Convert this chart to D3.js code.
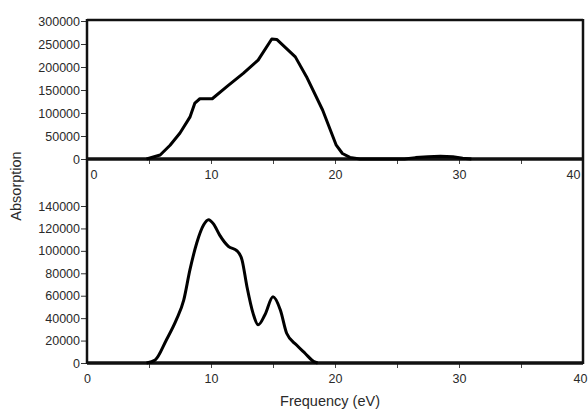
<!DOCTYPE html>
<html>
<head>
<meta charset="utf-8">
<script src="https://cdn.jsdelivr.net/npm/d3@7"></script>
<style>
  body { margin: 0; background: #fff; }
  text { font-family: "Liberation Sans", Arial, sans-serif; fill: #2a2a2a; }
</style>
</head>
<body>
<script>
// data (frequency in eV, absorption)
const topFreq = [4.8, 5.9, 6.7, 7.5, 8.3, 8.7, 9.1, 10.1, 11.3, 12.6, 13.8, 14.9, 15.3, 16.8, 17.7, 19.0, 20.1, 20.6, 21.2, 22.0, 25.6, 26.5, 27.5, 28.5, 29.5, 30.3, 31.0];
const topAbs  = [0, 8700, 30000, 56500, 91000, 121700, 131000, 131000, 158000, 186000, 215000, 261000, 260000, 222000, 179000, 106500, 30000, 12000, 3500, 0, 0, 3000, 5000, 6000, 5000, 1500, 0];

const botFreq = [4.8, 5.5, 6.4, 7.2, 7.8, 8.3, 8.85, 9.4, 9.8, 10.2, 10.7, 11.4, 12.1, 12.5, 12.9, 13.4, 13.8, 14.35, 15.0, 15.6, 16.1, 16.9, 17.6, 18.3, 18.6];
const botAbs  = [0, 2700, 20500, 38400, 56000, 83000, 107000, 123000, 127700, 124000, 114000, 104000, 100000, 92000, 68000, 44000, 34000, 43000, 59000, 47000, 26500, 16000, 8500, 1200, 0];

const xTicks = [0, 10, 20, 30, 40];
const xMinor = [5, 15, 25, 35];
const topYTicks = [0, 50000, 100000, 150000, 200000, 250000, 300000];
const botYTicks = [0, 20000, 40000, 60000, 80000, 100000, 120000, 140000];

// layout
const W = 588, H = 409;
const left = 87, right = 583;
const topY0 = 20, topY1 = 159, botY1 = 363;

const svg = d3.select("body").append("svg")
  .attr("width", W).attr("height", H);

const x = d3.scaleLinear().domain([0, 40]).range([left, right]);
const yTop = d3.scaleLinear().domain([0, 300000]).range([topY1, 21]);
const yBot = d3.scaleLinear().domain([0, 140000]).range([botY1, 206]);

// y axes
function yAxis(scale, ticks, minorStep, maxV) {
  const g = svg.append("g").attr("transform", `translate(${left},0)`);
  g.call(d3.axisLeft(scale).tickValues(d3.range(0, maxV + 1, minorStep)).tickSize(3).tickFormat(""));
  g.call(d3.axisLeft(scale).tickValues(ticks).tickSize(6).tickPadding(1).tickFormat(d3.format("d")));
  g.selectAll(".domain").remove();
  g.selectAll("line").attr("stroke", "#333").attr("stroke-width", 1);
  g.selectAll("text").style("font-size", "12.5px").attr("fill", "#2a2a2a");
}
yAxis(yTop, topYTicks, 25000, 300000);
yAxis(yBot, botYTicks, 10000, 140000);

// x axes
function xAxis(yPos, edgeLabels) {
  const g = svg.append("g").attr("transform", `translate(0,${yPos})`);
  g.call(d3.axisBottom(x).tickValues(xTicks.concat(xMinor)).tickSize(5).tickPadding(6)
    .tickFormat(d => xTicks.includes(d) ? d : ""));
  g.selectAll(".domain").remove();
  g.selectAll("line").attr("stroke", "#444").attr("stroke-width", 1);
  g.selectAll("text").style("font-size", "12.5px").attr("fill", "#2a2a2a");
  if (edgeLabels) {
    g.selectAll(".tick").filter(d => d === 0).select("text").attr("text-anchor", "start").attr("x", 3);
    g.selectAll(".tick").filter(d => d === 40).select("text").attr("text-anchor", "end").attr("x", -3);
  } else {
    g.selectAll(".tick").filter(d => d === 40).select("text").attr("text-anchor", "end").attr("x", 4);
  }
  g.selectAll(".tick").filter(d => d === 0 || d === 40).select("line").remove();
}
xAxis(topY1, true);
xAxis(botY1, false);

// frame lines
svg.append("line").attr("x1", left).attr("x2", right).attr("y1", topY0).attr("y2", topY0)
  .attr("stroke", "#111").attr("stroke-width", 2.5);
svg.append("line").attr("x1", left).attr("x2", left).attr("y1", topY0 - 1).attr("y2", botY1 + 1)
  .attr("stroke", "#111").attr("stroke-width", 2.5);
svg.append("line").attr("x1", right).attr("x2", right).attr("y1", topY0 - 1).attr("y2", botY1 + 1)
  .attr("stroke", "#111").attr("stroke-width", 2.5);
svg.append("line").attr("x1", left).attr("x2", right).attr("y1", topY1).attr("y2", topY1)
  .attr("stroke", "#111").attr("stroke-width", 3.5);
svg.append("line").attr("x1", left).attr("x2", right).attr("y1", botY1).attr("y2", botY1)
  .attr("stroke", "#111").attr("stroke-width", 3.5);

// curves: the top one is drawn with straight segments, the bottom one smoothed
const topLine = d3.line().x((d, i) => x(topFreq[i])).y(d => yTop(d)).curve(d3.curveLinear);
const botLine = d3.line().x((d, i) => x(botFreq[i])).y(d => yBot(d)).curve(d3.curveMonotoneX);

svg.append("path").datum(topAbs).attr("d", topLine)
  .attr("fill", "none").attr("stroke", "#000").attr("stroke-width", 3).attr("stroke-linejoin", "round");
svg.append("path").datum(botAbs).attr("d", botLine)
  .attr("fill", "none").attr("stroke", "#000").attr("stroke-width", 3).attr("stroke-linejoin", "round");

// axis titles
svg.append("text").attr("x", 330).attr("y", 406).attr("text-anchor", "middle")
  .style("font-size", "14.5px").text("Frequency (eV)");
svg.append("text").attr("transform", "translate(21,186) rotate(-90)").attr("text-anchor", "middle")
  .style("font-size", "14.5px").text("Absorption");
</script>
</body>
</html>
